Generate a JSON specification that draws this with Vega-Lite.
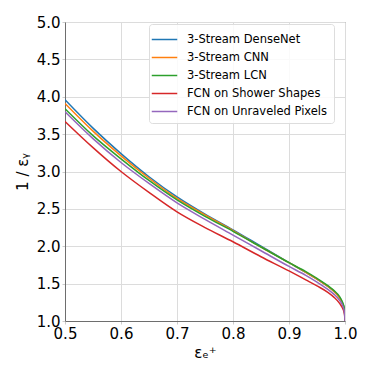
{
  "$schema": "https://vega.github.io/schema/vega-lite/v6.json",
  "autosize": "none",
  "width": 280,
  "height": 299,
  "padding": {"left": 65, "top": 22, "right": 29, "bottom": 53},
  "background": "white",
  "config": {
    "font": "DejaVu Sans",
    "view": {"stroke": "#6e6e6e", "strokeWidth": 1},
    "axis": {
      "domainColor": "#6e6e6e",
      "gridColor": "#dcdcdc",
      "tickColor": "#cccccc",
      "tickSize": 3,
      "labelFontSize": 15,
      "labelColor": "#000000",
      "titleFontSize": 15,
      "titleFontWeight": "normal",
      "titleColor": "#000000"
    }
  },
  "datasets": {
    "curves": [
      {"model": "3-Stream DenseNet", "eff": 0.5, "rej": 3.96},
      {"model": "3-Stream DenseNet", "eff": 0.55, "rej": 3.58},
      {"model": "3-Stream DenseNet", "eff": 0.6, "rej": 3.24},
      {"model": "3-Stream DenseNet", "eff": 0.65, "rej": 2.93},
      {"model": "3-Stream DenseNet", "eff": 0.7, "rej": 2.66},
      {"model": "3-Stream DenseNet", "eff": 0.75, "rej": 2.43},
      {"model": "3-Stream DenseNet", "eff": 0.8, "rej": 2.22},
      {"model": "3-Stream DenseNet", "eff": 0.85, "rej": 2.0},
      {"model": "3-Stream DenseNet", "eff": 0.9, "rej": 1.78},
      {"model": "3-Stream DenseNet", "eff": 0.93, "rej": 1.65},
      {"model": "3-Stream DenseNet", "eff": 0.95, "rej": 1.56},
      {"model": "3-Stream DenseNet", "eff": 0.97, "rej": 1.46},
      {"model": "3-Stream DenseNet", "eff": 0.98, "rej": 1.4},
      {"model": "3-Stream DenseNet", "eff": 0.99, "rej": 1.32},
      {"model": "3-Stream DenseNet", "eff": 0.995, "rej": 1.25},
      {"model": "3-Stream DenseNet", "eff": 0.999, "rej": 1.15},
      {"model": "3-Stream DenseNet", "eff": 1.0, "rej": 1.0},

      {"model": "3-Stream CNN", "eff": 0.5, "rej": 3.91},
      {"model": "3-Stream CNN", "eff": 0.55, "rej": 3.54},
      {"model": "3-Stream CNN", "eff": 0.6, "rej": 3.21},
      {"model": "3-Stream CNN", "eff": 0.65, "rej": 2.91},
      {"model": "3-Stream CNN", "eff": 0.7, "rej": 2.64},
      {"model": "3-Stream CNN", "eff": 0.75, "rej": 2.42},
      {"model": "3-Stream CNN", "eff": 0.8, "rej": 2.21},
      {"model": "3-Stream CNN", "eff": 0.85, "rej": 1.99},
      {"model": "3-Stream CNN", "eff": 0.9, "rej": 1.78},
      {"model": "3-Stream CNN", "eff": 0.93, "rej": 1.65},
      {"model": "3-Stream CNN", "eff": 0.95, "rej": 1.56},
      {"model": "3-Stream CNN", "eff": 0.97, "rej": 1.46},
      {"model": "3-Stream CNN", "eff": 0.98, "rej": 1.4},
      {"model": "3-Stream CNN", "eff": 0.99, "rej": 1.31},
      {"model": "3-Stream CNN", "eff": 0.995, "rej": 1.24},
      {"model": "3-Stream CNN", "eff": 0.999, "rej": 1.14},
      {"model": "3-Stream CNN", "eff": 1.0, "rej": 1.0},

      {"model": "3-Stream LCN", "eff": 0.5, "rej": 3.84},
      {"model": "3-Stream LCN", "eff": 0.55, "rej": 3.48},
      {"model": "3-Stream LCN", "eff": 0.6, "rej": 3.17},
      {"model": "3-Stream LCN", "eff": 0.65, "rej": 2.88},
      {"model": "3-Stream LCN", "eff": 0.7, "rej": 2.62},
      {"model": "3-Stream LCN", "eff": 0.75, "rej": 2.4},
      {"model": "3-Stream LCN", "eff": 0.8, "rej": 2.2},
      {"model": "3-Stream LCN", "eff": 0.85, "rej": 1.99},
      {"model": "3-Stream LCN", "eff": 0.9, "rej": 1.78},
      {"model": "3-Stream LCN", "eff": 0.93, "rej": 1.66},
      {"model": "3-Stream LCN", "eff": 0.95, "rej": 1.57},
      {"model": "3-Stream LCN", "eff": 0.97, "rej": 1.47},
      {"model": "3-Stream LCN", "eff": 0.98, "rej": 1.41},
      {"model": "3-Stream LCN", "eff": 0.99, "rej": 1.33},
      {"model": "3-Stream LCN", "eff": 0.995, "rej": 1.26},
      {"model": "3-Stream LCN", "eff": 0.999, "rej": 1.16},
      {"model": "3-Stream LCN", "eff": 1.0, "rej": 1.0},

      {"model": "FCN on Shower Shapes", "eff": 0.5, "rej": 3.67},
      {"model": "FCN on Shower Shapes", "eff": 0.55, "rej": 3.32},
      {"model": "FCN on Shower Shapes", "eff": 0.6, "rej": 3.0},
      {"model": "FCN on Shower Shapes", "eff": 0.65, "rej": 2.72},
      {"model": "FCN on Shower Shapes", "eff": 0.7, "rej": 2.46},
      {"model": "FCN on Shower Shapes", "eff": 0.75, "rej": 2.25},
      {"model": "FCN on Shower Shapes", "eff": 0.8, "rej": 2.06},
      {"model": "FCN on Shower Shapes", "eff": 0.85, "rej": 1.86},
      {"model": "FCN on Shower Shapes", "eff": 0.9, "rej": 1.67},
      {"model": "FCN on Shower Shapes", "eff": 0.93, "rej": 1.55},
      {"model": "FCN on Shower Shapes", "eff": 0.95, "rej": 1.47},
      {"model": "FCN on Shower Shapes", "eff": 0.97, "rej": 1.38},
      {"model": "FCN on Shower Shapes", "eff": 0.98, "rej": 1.32},
      {"model": "FCN on Shower Shapes", "eff": 0.99, "rej": 1.24},
      {"model": "FCN on Shower Shapes", "eff": 0.995, "rej": 1.18},
      {"model": "FCN on Shower Shapes", "eff": 0.999, "rej": 1.1},
      {"model": "FCN on Shower Shapes", "eff": 1.0, "rej": 1.0},

      {"model": "FCN on Unraveled Pixels", "eff": 0.5, "rej": 3.8},
      {"model": "FCN on Unraveled Pixels", "eff": 0.55, "rej": 3.44},
      {"model": "FCN on Unraveled Pixels", "eff": 0.6, "rej": 3.12},
      {"model": "FCN on Unraveled Pixels", "eff": 0.65, "rej": 2.84},
      {"model": "FCN on Unraveled Pixels", "eff": 0.7, "rej": 2.58},
      {"model": "FCN on Unraveled Pixels", "eff": 0.75, "rej": 2.36},
      {"model": "FCN on Unraveled Pixels", "eff": 0.8, "rej": 2.15},
      {"model": "FCN on Unraveled Pixels", "eff": 0.85, "rej": 1.94},
      {"model": "FCN on Unraveled Pixels", "eff": 0.9, "rej": 1.73},
      {"model": "FCN on Unraveled Pixels", "eff": 0.93, "rej": 1.61},
      {"model": "FCN on Unraveled Pixels", "eff": 0.95, "rej": 1.52},
      {"model": "FCN on Unraveled Pixels", "eff": 0.97, "rej": 1.42},
      {"model": "FCN on Unraveled Pixels", "eff": 0.98, "rej": 1.36},
      {"model": "FCN on Unraveled Pixels", "eff": 0.99, "rej": 1.28},
      {"model": "FCN on Unraveled Pixels", "eff": 0.995, "rej": 1.22},
      {"model": "FCN on Unraveled Pixels", "eff": 0.999, "rej": 1.12},
      {"model": "FCN on Unraveled Pixels", "eff": 1.0, "rej": 1.0}
    ]
  },
  "data": {"name": "curves"},
  "mark": {"type": "line", "strokeWidth": 1.5, "clip": true, "interpolate": "monotone"},
  "encoding": {
    "x": {
      "field": "eff",
      "type": "quantitative",
      "scale": {"domain": [0.5, 1.0], "nice": false, "zero": false},
      "axis": {
        "title": "εₑ⁺",
        "values": [0.5, 0.6, 0.7, 0.8, 0.9, 1.0],
        "format": ".1f",
        "labelPadding": 2,
        "titlePadding": 4,
        "labelFlush": false
      }
    },
    "y": {
      "field": "rej",
      "type": "quantitative",
      "scale": {"domain": [1.0, 5.0], "nice": false, "zero": false},
      "axis": {
        "title": "1 / εᵧ",
        "values": [1.0, 1.5, 2.0, 2.5, 3.0, 3.5, 4.0, 4.5, 5.0],
        "format": ".1f",
        "labelPadding": 2,
        "titlePadding": 6,
        "labelFlush": false
      }
    },
    "color": {
      "field": "model",
      "type": "nominal",
      "scale": {
        "domain": ["3-Stream DenseNet", "3-Stream CNN", "3-Stream LCN", "FCN on Shower Shapes", "FCN on Unraveled Pixels"],
        "range": ["#1f77b4", "#ff7f0e", "#2ca02c", "#d62728", "#9467bd"]
      },
      "legend": {
        "title": null,
        "orient": "none",
        "legendX": 84,
        "legendY": 2,
        "symbolType": "M-1.5,0H1.5",
        "symbolSize": 289,
        "symbolStrokeWidth": 1.5,
        "labelFontSize": 11.5,
        "labelColor": "#000000",
        "labelOffset": 13,
        "rowPadding": 3,
        "padding": 6,
        "fillColor": "rgba(255,255,255,0.85)",
        "strokeColor": "#dddddd",
        "cornerRadius": 3
      }
    }
  }
}
